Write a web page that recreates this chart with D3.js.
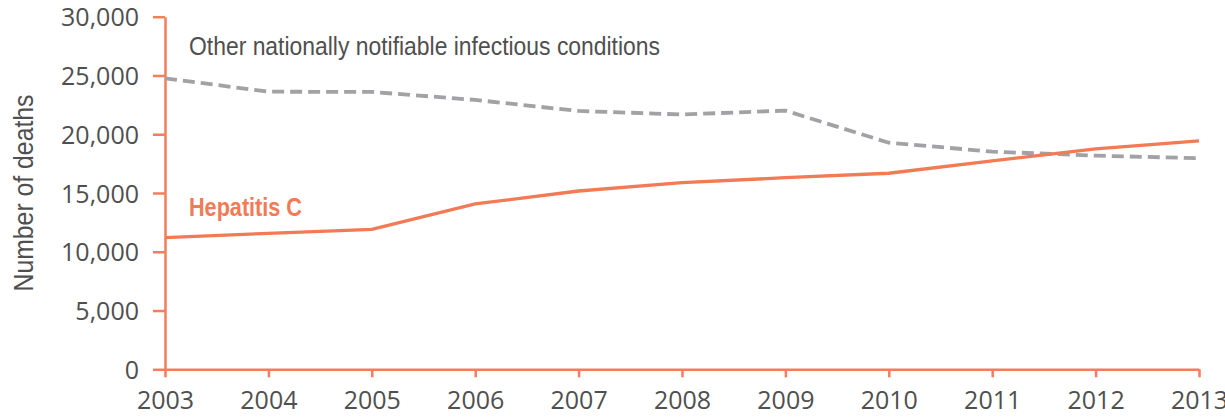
<!DOCTYPE html>
<html>
<head>
<meta charset="utf-8">
<script src="https://cdn.jsdelivr.net/npm/d3@7"></script>
<style>
  body { margin: 0; background: #fff; }
  .tick text { font-family: "Open Sans", sans-serif; font-size: 25px; fill: #4f4f4f; }
  .axis path, .axis line { stroke: #f47d5a; stroke-width: 2.5; }
</style>
</head>
<body>
<svg id="chart" width="1225" height="417"></svg>
<script>
// values
var years = [2003, 2004, 2005, 2006, 2007, 2008, 2009, 2010, 2011, 2012, 2013];
var hepC = [11200, 11570, 11910, 14070, 15170, 15880, 16300, 16680, 17730, 18750, 19430];
var otherNotifiable = [24760, 23620, 23600, 22920, 21980, 21680, 22010, 19280, 18520, 18180, 17960];
var yTicks = [0, 5000, 10000, 15000, 20000, 25000, 30000];

var svg = d3.select("#chart");
var margin = {left: 165, right: 26, top: 16.7, bottom: 47.7};
var width = 1225 - margin.left - margin.right;
var height = 417 - margin.top - margin.bottom;

var g = svg.append("g").attr("transform", "translate(" + margin.left + "," + margin.top + ")");

var x = d3.scaleLinear().domain([2003, 2013]).range([0, width]);
var y = d3.scaleLinear().domain([0, 30000]).range([height, 0]);

g.append("g")
    .attr("class", "axis")
    .attr("transform", "translate(0," + height + ")")
    .call(d3.axisBottom(x).tickValues(years).tickFormat(d3.format("d"))
        .tickSize(8).tickSizeOuter(0).tickPadding(14));

g.append("g")
    .attr("class", "axis")
    .call(d3.axisLeft(y).tickValues(yTicks).tickFormat(d3.format(","))
        .tickSize(12).tickSizeOuter(0).tickPadding(14));

g.selectAll(".axis .tick text").attr("dy", null);
g.selectAll(".axis text").filter(function () { return this.parentNode.parentNode.getAttribute("transform"); })
    .attr("dy", "0.71em");
g.selectAll(".axis text").filter(function () { return !this.parentNode.parentNode.getAttribute("transform"); })
    .attr("dy", "0.36em");

var line = d3.line()
    .x((d, i) => x(years[i]))
    .y(d => y(d));

g.append("path")
    .datum(otherNotifiable)
    .attr("fill", "none")
    .attr("stroke", "#a1a1a6")
    .attr("stroke-width", 3.8)
    .attr("stroke-dasharray", "12,6")
    .attr("d", line);

g.append("path")
    .datum(hepC)
    .attr("fill", "none")
    .attr("stroke", "#f27a55")
    .attr("stroke-width", 3.3)
    .attr("d", line);

// labels
svg.append("text")
    .attr("x", 189).attr("y", 55)
    .attr("textLength", 471).attr("lengthAdjust", "spacingAndGlyphs")
    .style("font-family", "'Liberation Sans Narrow', sans-serif")
    .style("font-size", "25px")
    .style("fill", "#4f4f4f")
    .text("Other nationally notifiable infectious conditions");

svg.append("text")
    .attr("x", 189).attr("y", 216)
    .attr("textLength", 113).attr("lengthAdjust", "spacingAndGlyphs")
    .style("font-family", "'Liberation Sans Narrow', sans-serif")
    .style("font-size", "25px")
    .style("font-weight", "bold")
    .style("fill", "#f27a55")
    .text("Hepatitis C");

svg.append("text")
    .attr("transform", "translate(33,193) rotate(-90)")
    .attr("text-anchor", "middle")
    .attr("textLength", 197).attr("lengthAdjust", "spacingAndGlyphs")
    .style("font-family", "'Liberation Sans Narrow', sans-serif")
    .style("font-size", "27px")
    .style("fill", "#4f4f4f")
    .text("Number of deaths");
</script>
</body>
</html>
